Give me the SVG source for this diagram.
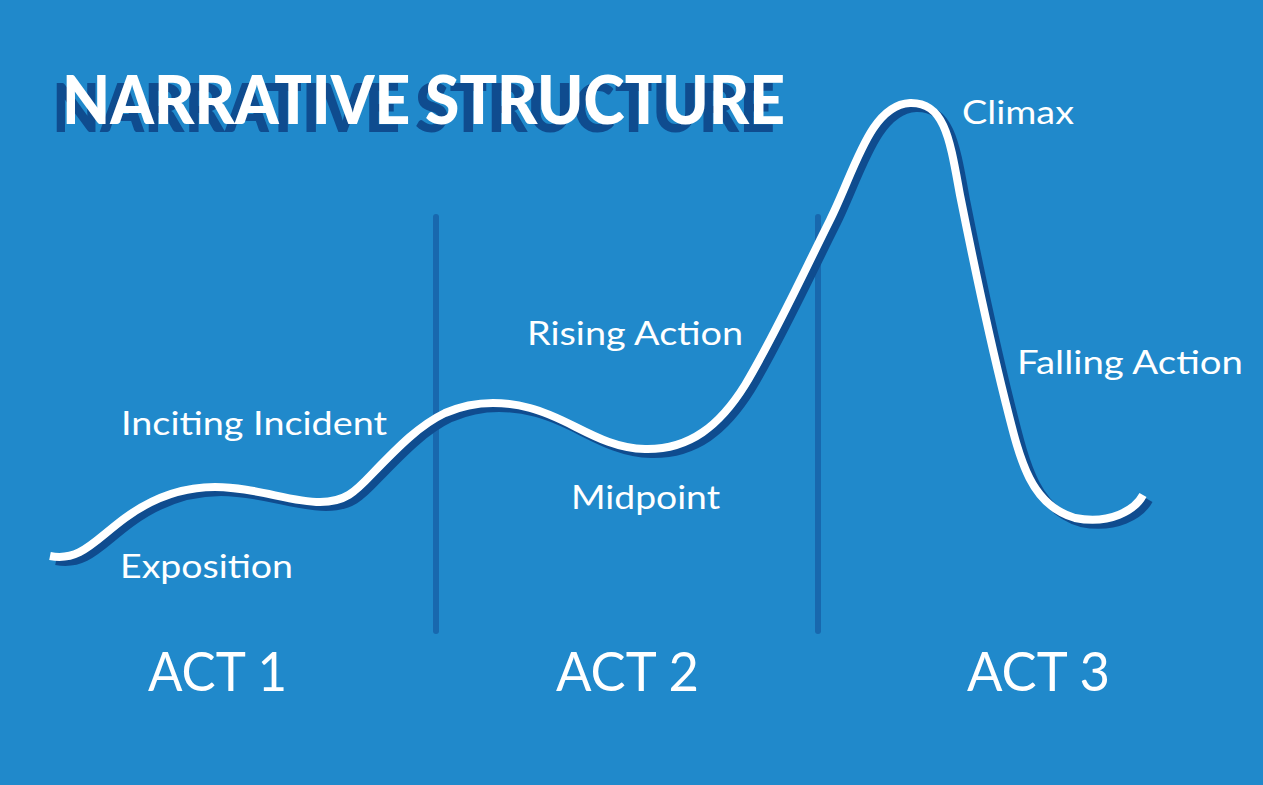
<svg xmlns="http://www.w3.org/2000/svg" width="1263" height="785" viewBox="0 0 1263 785">
<style>
.lbl{font-family:Lato,"Open Sans","Liberation Sans",sans-serif;font-size:33px;fill:#ffffff}
.act{font-family:Lato,"Open Sans","Liberation Sans",sans-serif;font-size:54px;fill:#ffffff}
.title{font-family:Lato,"Liberation Sans",sans-serif;font-weight:900;font-size:66px}
.divider{stroke:#1868ae;stroke-width:6;stroke-linecap:round}
.curve{fill:none;stroke-width:8}
</style>
<defs>
<path id="arc" d="M50,556 C80,562 95,540 125,518 C155,496 185,487 215,487 C255,487 290,502 320,502 C345,502 355,492 372,474 C400,445 420,425 445,413 C470,402 500,400 530,408 C570,418 600,448 645,449 C690,450 720,425 745,385 C775,335 800,280 830,220 C855,170 870,105 910,103 C945,102 950,140 960,195 C975,270 990,340 1005,400 C1020,460 1030,505 1075,518 C1110,525 1135,510 1143,495"/>
</defs>
<rect x="0" y="0" width="1263" height="785" fill="#2089cb"/>
<g id="title">
<text class="title" x="52" y="132" fill="#0f4c8f" textLength="723" lengthAdjust="spacingAndGlyphs">NARRATIVE STRUCTURE</text>
<text class="title" x="62" y="124" fill="#ffffff" textLength="723" lengthAdjust="spacingAndGlyphs">NARRATIVE STRUCTURE</text>
</g>
<g id="dividers">
<line class="divider" x1="436" y1="217" x2="436" y2="631"/>
<line class="divider" x1="818" y1="217" x2="818" y2="631"/>
</g>
<g id="connectors">
<use href="#arc" class="curve" stroke="#0f4c8f" transform="translate(6,5)"/>
<use href="#arc" class="curve" stroke="#ffffff"/>
</g>
<g id="exposition"><text class="lbl" x="120" y="578" textLength="173" lengthAdjust="spacingAndGlyphs">Exposition</text></g>
<g id="inciting"><text class="lbl" x="121" y="435" textLength="266" lengthAdjust="spacingAndGlyphs">Inciting Incident</text></g>
<g id="midpoint"><text class="lbl" x="571" y="509" textLength="149" lengthAdjust="spacingAndGlyphs">Midpoint</text></g>
<g id="rising"><text class="lbl" x="527" y="345" textLength="216" lengthAdjust="spacingAndGlyphs">Rising Action</text></g>
<g id="climax"><text class="lbl" x="962" y="124" textLength="112" lengthAdjust="spacingAndGlyphs">Climax</text></g>
<g id="falling"><text class="lbl" x="1017" y="374" textLength="226" lengthAdjust="spacingAndGlyphs">Falling Action</text></g>
<g id="act1"><text class="act" x="148" y="691" textLength="139" lengthAdjust="spacingAndGlyphs">ACT 1</text></g>
<g id="act2"><text class="act" x="556" y="691" textLength="143" lengthAdjust="spacingAndGlyphs">ACT 2</text></g>
<g id="act3"><text class="act" x="967" y="691" textLength="143" lengthAdjust="spacingAndGlyphs">ACT 3</text></g>
</svg>
